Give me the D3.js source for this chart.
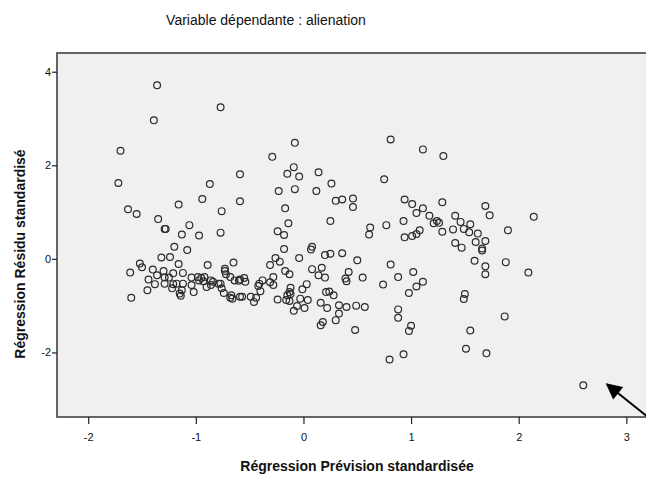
<!DOCTYPE html>
<html>
<head>
<meta charset="utf-8">
<script src="https://cdn.jsdelivr.net/npm/d3@7"></script>
<style>
  body { margin: 0; background: #fff; }
  text { font-family: "Liberation Sans", Arial, sans-serif; }
</style>
</head>
<body>
<script>
// Prévision standardisée (x) et Résidu standardisé (y)
var predicted = [-1.72,-1.70,-1.63,-1.55,-1.61,-1.60,-1.52,-1.50,-1.45,-1.44,-1.40,-1.38,-1.36,-1.39,-1.35,-1.36,-1.32,-1.30,-1.29,-1.28,
  -1.29,-1.29,-1.25,-1.24,-1.21,-1.22,-1.21,-1.20,-1.18,-1.16,-1.16,-1.13,-1.13,-1.15,-1.14,-1.12,-1.12,-1.08,-1.06,-1.04,
  -1.04,-1.02,-0.97,-0.94,-0.98,-0.95,-0.92,-0.93,-0.97,-0.90,-0.89,-0.87,-0.86,-0.86,-0.84,-0.79,-0.77,-0.77,-0.76,-0.77,
  -0.76,-0.74,-0.73,-0.73,-0.72,-0.68,-0.67,-0.68,-0.66,-0.65,-0.64,-0.60,-0.59,-0.59,-0.59,-0.57,-0.59,-0.55,-0.54,-0.49,
  -0.46,-0.44,-0.42,-0.41,-0.40,-0.38,-0.31,-0.31,-0.29,-0.28,-0.28,-0.26,-0.24,-0.23,-0.24,-0.22,-0.18,-0.17,-0.18,-0.17,
  -0.16,-0.15,-0.15,-0.14,-0.13,-0.13,-0.12,-0.13,-0.12,-0.09,-0.08,-0.08,-0.09,-0.06,-0.04,-0.04,-0.03,-0.01,0.03,0.01,
  0.04,0.07,0.08,0.08,0.12,0.14,0.14,0.16,0.17,0.18,0.16,0.20,0.20,0.21,0.24,0.22,0.25,0.25,0.26,0.28,
  0.30,0.30,0.33,0.33,0.36,0.36,0.39,0.40,0.42,0.40,0.46,0.46,0.48,0.49,0.50,0.55,0.57,0.61,0.62,0.75,
  0.74,0.77,0.81,0.81,0.80,0.88,0.88,0.88,0.93,0.93,0.94,0.94,0.98,0.98,1.00,1.01,1.01,1.02,1.05,1.05,
  1.05,1.08,1.11,1.11,1.11,1.17,1.21,1.24,1.26,1.29,1.29,1.30,1.39,1.41,1.41,1.46,1.47,1.49,1.49,1.50,
  1.51,1.54,1.55,1.55,1.59,1.60,1.62,1.66,1.66,1.69,1.69,1.73,1.69,1.69,1.70,1.87,1.88,1.90,2.09,2.14,
  2.60];
var residual = [1.62,2.31,1.06,0.96,-0.29,-0.83,-0.10,-0.18,-0.67,-0.44,-0.23,-0.54,3.71,2.96,0.85,-0.35,0.03,-0.26,0.64,0.64,
  -0.40,-0.53,-0.40,0.04,-0.54,-0.63,-0.31,0.26,-0.53,1.16,-0.11,0.52,-0.67,-0.74,-0.79,-0.30,-0.53,0.19,0.72,-0.40,
  -0.56,-0.71,0.50,1.28,-0.39,-0.41,-0.39,-0.48,-0.46,-0.60,-0.13,1.60,-0.46,-0.56,-0.49,-0.53,3.24,0.56,1.02,-0.53,
  -0.63,-0.73,-0.21,-0.26,-0.33,-0.39,-0.78,-0.83,-0.85,-0.08,-0.46,-0.47,1.81,1.23,-0.81,-0.81,-0.44,-0.41,-0.49,-0.81,
  -0.92,-0.83,-0.58,-0.53,-0.69,-0.46,-0.50,-0.13,2.18,-0.39,-0.56,0.02,-0.87,1.45,0.59,-0.06,0.51,1.08,0.21,-0.26,
  -0.88,-0.78,1.82,0.76,-0.90,-0.33,-0.62,-0.71,-0.75,1.96,2.48,1.49,-1.11,-1.01,1.76,0.02,-0.85,-0.65,-0.54,-1.05,
  -0.88,0.20,0.26,-0.22,1.45,1.85,-0.35,-0.94,-0.19,-1.35,-1.42,0.08,-0.40,-0.71,-0.70,-1.05,0.81,0.11,1.61,-0.78,
  1.24,-1.31,-0.99,-1.17,0.12,1.27,-0.42,-0.48,-0.28,-1.03,1.11,1.29,-1.52,-1.00,-0.03,-0.40,-1.03,0.52,0.67,1.70,
  -0.55,0.72,2.55,-0.12,-2.15,-0.39,-1.08,-1.26,0.81,-2.04,0.46,1.27,-0.73,-1.54,-1.43,1.17,0.49,-0.28,-0.59,0.98,
  0.53,0.61,-0.49,1.08,2.34,0.92,0.76,0.81,0.77,1.21,0.58,2.20,0.63,0.92,0.34,0.79,0.24,0.64,-0.86,-0.75,
  -1.92,0.57,0.74,-1.53,-0.04,0.36,0.54,0.22,0.18,0.38,1.13,0.93,-0.16,-0.33,-2.02,-1.23,-0.07,0.61,-0.29,0.90,
  -2.70];
var xTicks = [-2, -1, 0, 1, 2, 3];
var yTicks = [-2, 0, 2, 4];
var title = "Variable dépendante : alienation";
var xLabel = "Régression Prévision standardisée";
var yLabel = "Régression Résidu standardisé";

var width = 646, height = 477;
var plotLeft = 57, plotTop = 53, plotRight = 650, plotBottom = 417;

var x = d3.scaleLinear().domain([-2.29, 3.22]).range([plotLeft, plotRight]);
var y = d3.scaleLinear().domain([-3.38, 4.40]).range([plotBottom, plotTop]);

var svg = d3.select("body").append("svg")
    .attr("width", width)
    .attr("height", height);

// fond du cadre
svg.append("rect")
    .attr("x", plotLeft).attr("y", plotTop)
    .attr("width", plotRight - plotLeft).attr("height", plotBottom - plotTop)
    .attr("fill", "#f0f0f0")
    .attr("stroke", "#555")
    .attr("stroke-width", 1.8);

var fmt = function(d){ return String(d); };

// axe X
var xAxis = svg.append("g")
    .attr("transform", "translate(0," + plotBottom + ")")
    .call(d3.axisBottom(x).tickValues(xTicks).tickSize(7).tickPadding(9).tickFormat(fmt));
xAxis.select(".domain").remove();

// axe Y
var yAxis = svg.append("g")
    .attr("transform", "translate(" + plotLeft + ",0)")
    .call(d3.axisLeft(y).tickValues(yTicks).tickSize(5).tickPadding(1).tickFormat(fmt));
yAxis.select(".domain").remove();

svg.selectAll(".tick line").attr("stroke", "#222").attr("stroke-width", 1.2);
svg.selectAll(".tick text")
    .attr("fill", "#111")
    .style("font-size", "11px")
    .style("font-family", "'Liberation Sans', Arial, sans-serif");

// points
svg.append("g")
  .selectAll("circle")
  .data(predicted.map(function(d, i){ return [d, residual[i]]; }))
  .enter()
  .append("circle")
    .attr("cx", function(d){ return x(d[0]); })
    .attr("cy", function(d){ return y(d[1]); })
    .attr("r", 3.4)
    .attr("fill", "none")
    .attr("stroke", "#2b2b2b")
    .attr("stroke-width", 1.2);

// flèche vers le point extrême
svg.append("defs").append("marker")
    .attr("id", "head")
    .attr("viewBox", "0 0 10 10")
    .attr("refX", 9).attr("refY", 5)
    .attr("markerWidth", 10).attr("markerHeight", 8)
    .attr("markerUnits", "strokeWidth")
    .attr("orient", "auto")
  .append("path")
    .attr("d", "M0,0 L10,5 L0,10 Z")
    .attr("fill", "#000");

svg.append("line")
    .attr("x1", x(3.2)).attr("y1", y(-3.38))
    .attr("x2", x(2.82)).attr("y2", y(-2.68))
    .attr("stroke", "#000")
    .attr("stroke-width", 2)
    .attr("marker-end", "url(#head)");

// titres
svg.append("text")
    .attr("x", 266).attr("y", 25)
    .attr("text-anchor", "middle")
    .style("font-size", "14px")
    .attr("fill", "#111")
    .text(title);

svg.append("text")
    .attr("x", 357).attr("y", 471)
    .attr("text-anchor", "middle")
    .style("font-size", "14px")
    .style("font-weight", "bold")
    .attr("fill", "#111")
    .text(xLabel);

svg.append("text")
    .attr("transform", "translate(25,254) rotate(-90)")
    .attr("text-anchor", "middle")
    .style("font-size", "14px")
    .style("font-weight", "bold")
    .attr("fill", "#111")
    .text(yLabel);
</script>
</body>
</html>
